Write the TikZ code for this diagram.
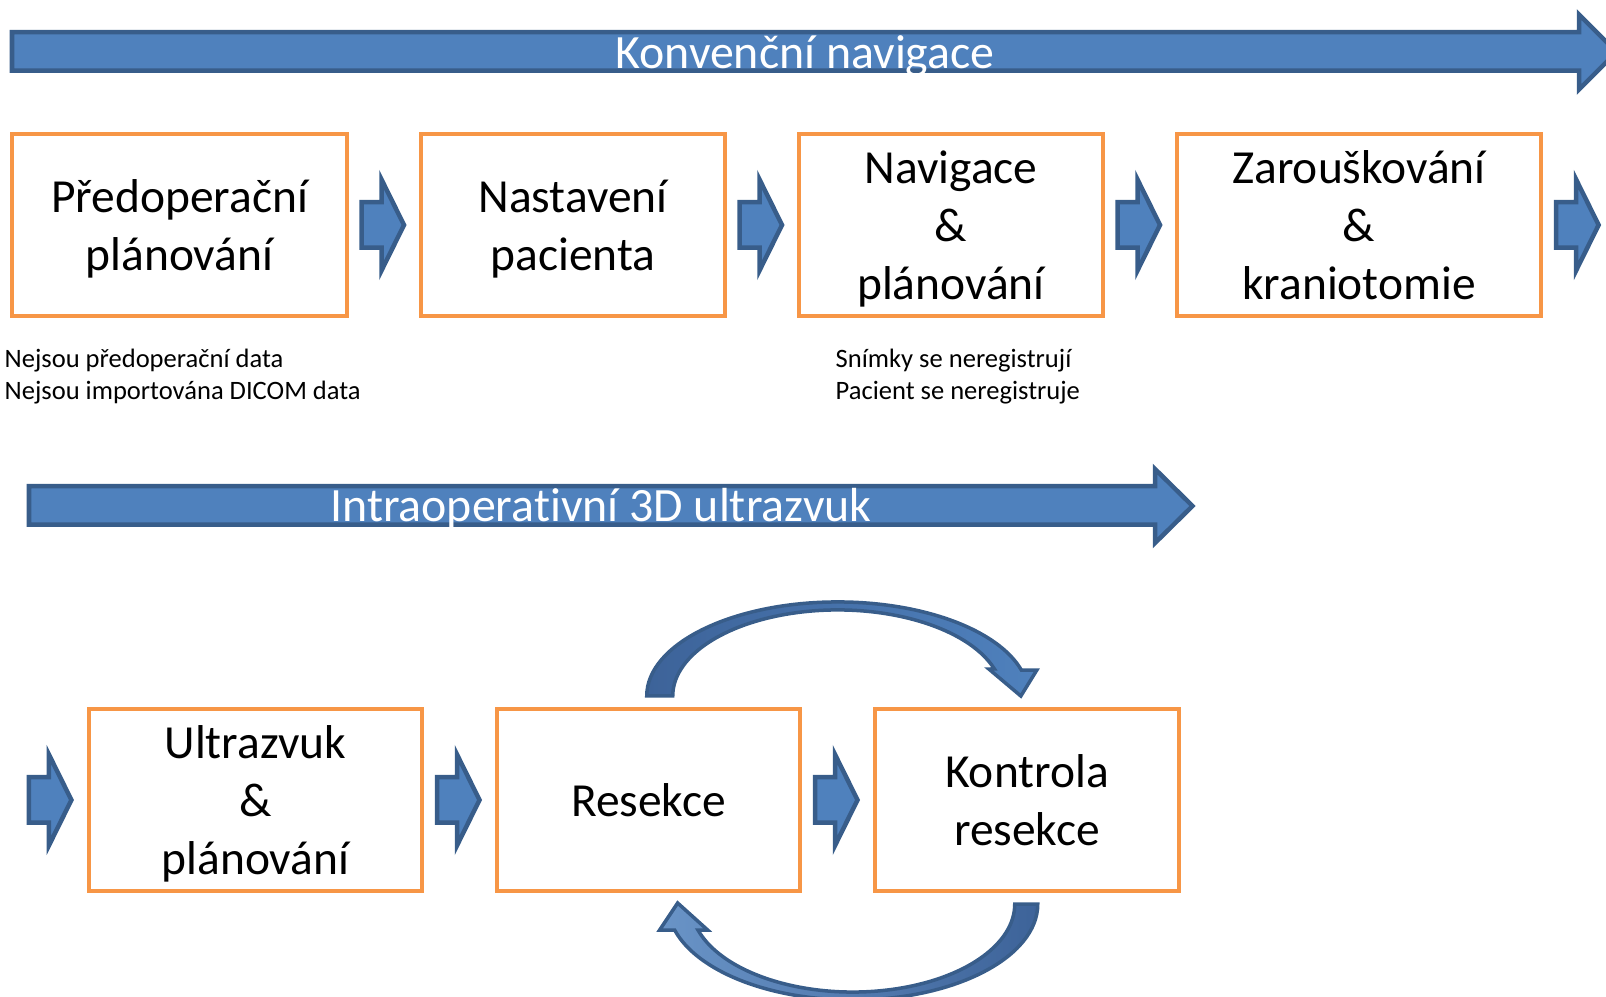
\documentclass[tikz,border=0pt]{standalone}
\usepackage{fontspec}
\setmainfont{Carlito}[Ligatures=NoCommon]
\usetikzlibrary{calc}

\definecolor{boxorange}{HTML}{F79646}
\definecolor{arrowblue}{HTML}{4F81BD}
\definecolor{arrowedge}{HTML}{385D8A}
\definecolor{loopdark}{HTML}{3D6399}

% fixed line height so text sits like in the slide
\newcommand\bxs{\vrule height 12.5pt depth 3pt width 0pt\relax}

\tikzset{
  stepbox/.style={draw=boxorange, line width=0.04cm, fill=white, minimum height=1.82cm,
    align=center, inner sep=0pt, outer sep=0pt, font=\fontsize{13.5}{16.5}\selectfont},
  blockarrow/.style={fill=arrowblue, draw=arrowedge, line width=0.045cm, line join=miter},
  looparrow/.style={draw=arrowedge, line width=0.035cm, line join=miter},
  note/.style={align=left, anchor=west, inner sep=0pt, font=\fontsize{7.55}{9.1}\selectfont},
  banner/.style={text=white, inner sep=0pt, font=\fontsize{13.6}{16}\selectfont},
  chevron/.pic={
    \path[blockarrow] (-22.5,-22.75) -- (-2.5,-22.75) -- (-2.5,-45.5) -- (20,0)
      -- (-2.5,45.5) -- (-2.5,22.75) -- (-22.5,22.75) -- cycle;
  }
}

\begin{document}
\begin{tikzpicture}[x=0.01cm, y=0.01cm]
    \useasboundingbox (0,0) rectangle (1606,997);

    % the two long arrows
    \draw[blockarrow] (12,926.25) -- (1579,926.25) -- (1579,907.5) -- (1616.5,945)
        -- (1579,982.5) -- (1579,964.75) -- (12,964.75) -- cycle;
    \node[banner] (konvencni) at (805,941) {Konvenční navigace};

    \draw[blockarrow] (29,472.25) -- (1155,472.25) -- (1155,454) -- (1192.5,491)
        -- (1155,528) -- (1155,510.75) -- (29,510.75) -- cycle;
    \node[banner] (intraop) at (601,488) {Intraoperativní 3D ultrazvuk};

    % first row
    \node[stepbox, minimum width=3.35cm] (predop) at (179.5,772) {\bxs Předoperační\\plánování\bxs};
    \node[stepbox, minimum width=3.04cm] (nastaveni) at (573,772) {\bxs Nastavení\\pacienta\bxs};
    \node[stepbox, minimum width=3.04cm] (navigace) at (951,772) {\bxs Navigace\\\&\\plánování\bxs};
    \node[stepbox, minimum width=3.64cm] (zarouskovani) at (1359,772) {\bxs Zarouškování\\\&\\kraniotomie\bxs};

    \pic at ($(predop.east)!0.5!(nastaveni.west)$) {chevron};
    \pic at ($(nastaveni.east)!0.5!(navigace.west)$) {chevron};
    \pic at ($(navigace.east)!0.5!(zarouskovani.west)$) {chevron};
    \pic at ($(zarouskovani.east)+(37.5,0)$) {chevron};

    \node[note] (nodata) at (4,620) {Nejsou předoperační data\\Nejsou importována DICOM data};
    \node[note] (noreg) at (835,620) {Snímky se neregistrují\\Pacient se neregistruje};

    % second row
    \node[stepbox, minimum width=3.33cm] (ultrazvuk) at (255.5,197) {\bxs Ultrazvuk\\\&\\plánování\bxs};
    \node[stepbox, minimum width=3.03cm] (resekce) at (648.5,197) {\bxs Resekce\bxs};
    \node[stepbox, minimum width=3.04cm] (kontrola) at (1027,197) {\bxs Kontrola\\resekce\bxs};

    \pic at ($(ultrazvuk.west)+(-37.5,0)$) {chevron};
    \pic at ($(ultrazvuk.east)!0.5!(resekce.west)$) {chevron};
    \pic at ($(resekce.east)!0.5!(kontrola.west)$) {chevron};

    % loop between resekce and kontrola
    \coordinate (looptop) at ($(resekce.north)!0.5!(kontrola.north)+(0,13)$);
    \coordinate (loopbot) at ($(resekce.south)!0.5!(kontrola.south)+(15,-13)$);

    \path[looparrow, left color=loopdark, right color=arrowblue]
        ($(looptop)+(180:191 and 94)$) arc[start angle=180, end angle=16, x radius=191, y radius=94]
        -- ++(15.5,0) -- ++(-16,-26) -- ++(-32,27)
        -- ($(looptop)+(18.3:165 and 86)$) arc[start angle=18.3, end angle=180, x radius=165, y radius=86]
        -- cycle;

    \path[looparrow, left color=arrowblue!85!white, right color=loopdark]
        ($(loopbot)+(0:185 and 96)$) arc[start angle=0, end angle=-164.3, x radius=185, y radius=96]
        -- ++(-15,0) -- ++(18,27) -- ++(30,-27)
        -- ($(loopbot)+(197.2:162 and 88)$) arc[start angle=197.2, end angle=360, x radius=162, y radius=88]
        -- cycle;
\end{tikzpicture}
\end{document}
